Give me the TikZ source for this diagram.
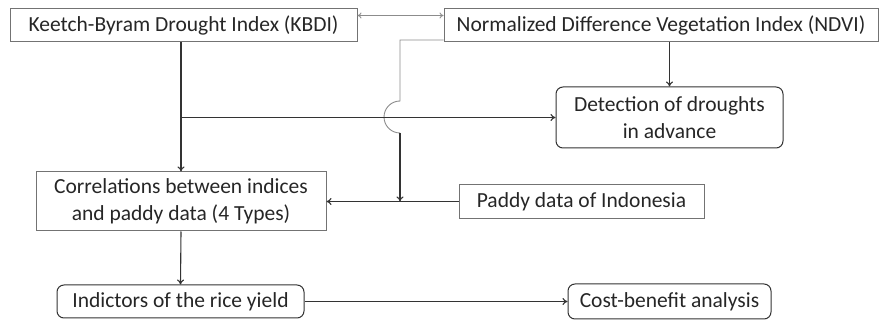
\documentclass[tikz,border=0pt]{standalone}
\usepackage{fontspec}
\setmainfont{Carlito}
\usetikzlibrary{arrows.meta}
\begin{document}
\begin{tikzpicture}[x=1pt,y=1pt,
  every node/.style={font=\fontsize{21.5}{27}\selectfont, text=black!85, inner sep=0pt, align=center},
  sqbox/.style={draw=black!55, line width=1pt, rectangle},
  rdbox/.style={draw=black!80, line width=1pt, rectangle, rounded corners=7pt},
  conn/.style={draw=black!80, line width=1.1pt, -{To[length=5pt,width=7pt]}},
  gline/.style={draw=black!45, line width=0.9pt}]
\useasboundingbox (0,0) rectangle (881,-320);
\node[sqbox, minimum width=347pt, minimum height=33pt] (KBDI) at (183.5,-25.5) {Keetch-Byram Drought Index (KBDI)};
\node[sqbox, minimum width=434pt, minimum height=33pt] (NDVI) at (661,-25.5) {Normalized Difference Vegetation Index (NDVI)};
\node[rdbox, minimum width=227pt, minimum height=61pt] (Det) at (669.5,-117.5) {Detection of droughts\\in advance};
\node[sqbox, minimum width=290pt, minimum height=59pt] (Corr) at (181,-201.5) {Correlations between indices\\and paddy data (4 Types)};
\node[sqbox, minimum width=245pt, minimum height=34pt] (Paddy) at (581.5,-201.5) {Paddy data of Indonesia};
\node[rdbox, minimum width=247pt, minimum height=33pt] (Ind) at (180.5,-301.5) {Indictors of the rice yield};
\node[rdbox, minimum width=203pt, minimum height=35pt] (Cost) at (669.5,-301.5) {Cost-benefit analysis};
% double arrow
\draw[gline, {To[length=4pt,width=6pt]}-{To[length=4pt,width=6pt]}] ([yshift=10pt]KBDI.east) -- ([yshift=10pt]NDVI.west);
% NDVI to paddy line with hop
\coordinate (hopT) at (400,-101);
\coordinate (hopB) at (400,-133);
\coordinate (pj) at (Paddy.west -| hopT);
\draw[gline] ([yshift=-14.5pt]NDVI.west) -| (hopT) arc[start angle=90,end angle=270,radius=16pt];
\draw[conn] (hopB) -- (pj);
% KBDI down to Corr
\coordinate (kTop) at (Corr.north |- KBDI.south);
\draw[conn] (kTop) -- (Corr.north);
\coordinate (jDet) at (Corr.north |- Det.west);
\draw[conn] (jDet) -- (Det.west);
% NDVI down to Detection
\coordinate (nBot) at (Det.north |- NDVI.south);
\draw[conn] (nBot) -- (Det.north);
% Paddy to Corr
\draw[conn] (Paddy.west) -- (Paddy.west -| Corr.east);
% Corr to Ind
\draw[conn] (Corr.south) -- (Ind.north);
% Ind to Cost
\draw[conn] (Ind.east) -- (Cost.west);
\end{tikzpicture}
\end{document}
